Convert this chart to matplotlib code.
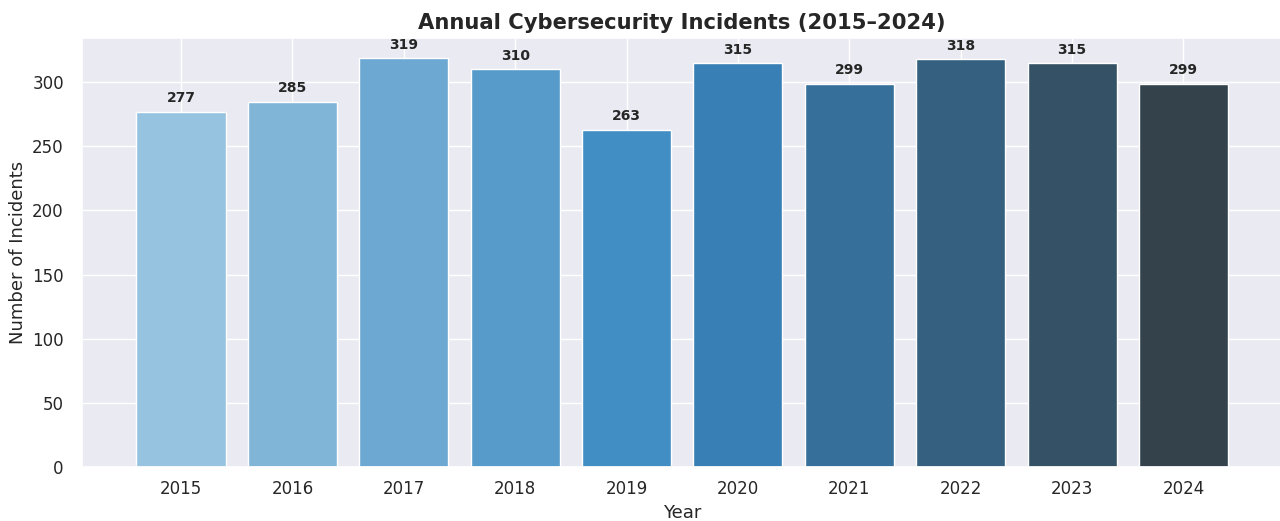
import matplotlib
matplotlib.use("Agg")
import matplotlib.pyplot as plt
import seaborn as sns

years = ["2015", "2016", "2017", "2018", "2019", "2020", "2021", "2022", "2023", "2024"]
incidents = [277, 285, 319, 310, 263, 315, 299, 318, 315, 299]

sns.set_theme(style="darkgrid")
colors = sns.color_palette("Blues_d", len(years))

fig, ax = plt.subplots(figsize=(12.8, 5.21), dpi=100)
bars = ax.bar(years, incidents, color=colors)

for bar, val in zip(bars, incidents):
    ax.text(bar.get_x() + bar.get_width() / 2, val + 5, str(val),
            ha="center", va="bottom", fontsize=10, fontweight="bold")

ax.set_title("Annual Cybersecurity Incidents (2015\u20132024)", fontsize=15.2, fontweight="bold")
ax.set_xlabel("Year", fontsize=13)
ax.set_ylabel("Number of Incidents", fontsize=13)
ax.tick_params(axis="both", labelsize=12)
ax.tick_params(axis="y", pad=7)

fig.subplots_adjust(left=0.064, right=1.002, top=0.928, bottom=0.104)
plt.savefig("out.png")
